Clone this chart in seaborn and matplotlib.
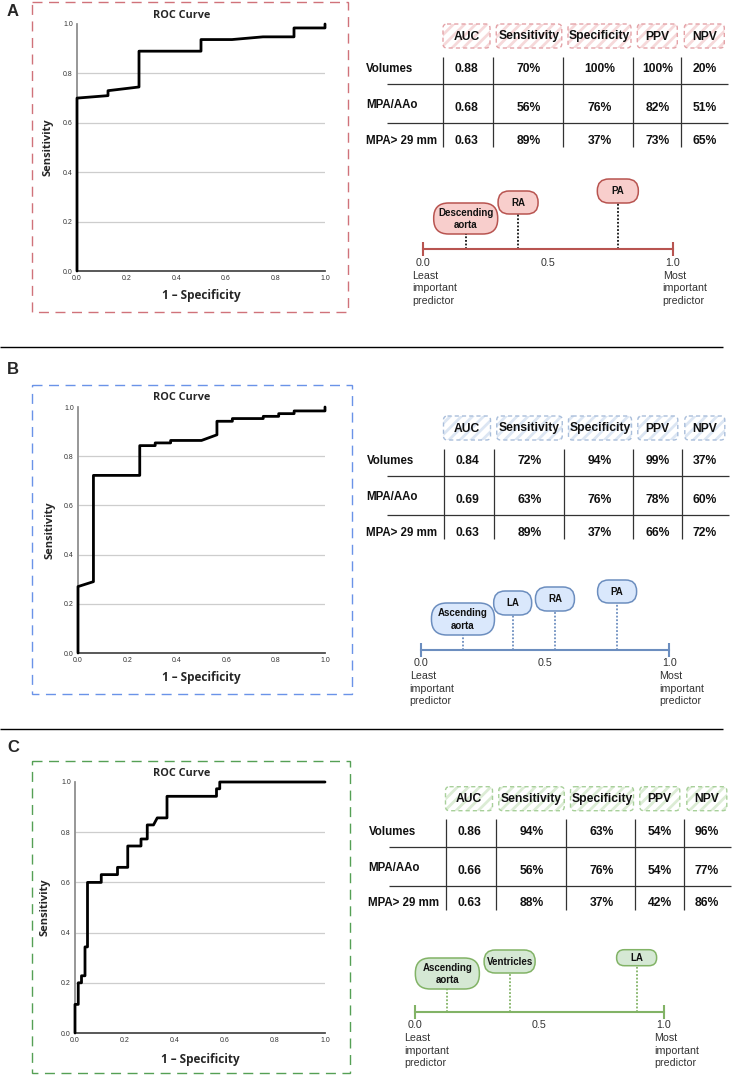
import numpy as np
import pandas as pd
import seaborn as sns
import matplotlib.pyplot as plt
from matplotlib.patches import FancyBboxPatch, Rectangle

sns.set_theme(style="white")
plt.rcParams['font.family'] = ['Liberation Sans', 'DejaVu Sans']
plt.rcParams['hatch.linewidth'] = 2.0

# ROC curves
fpr_a = [0, 0, 0.125, 0.125, 0.25, 0.25, 0.5, 0.5, 0.625, 0.75, 0.875, 0.875, 1.0, 1.0]
tpr_a = [0, 0.70, 0.71, 0.73, 0.745, 0.89, 0.89, 0.937, 0.937, 0.948, 0.948, 0.984, 0.984, 1.0]

fpr_b = [0, 0, 0.0625, 0.0625, 0.25, 0.25, 0.3125, 0.3125, 0.375, 0.375, 0.5, 0.5625, 0.5625,
         0.625, 0.625, 0.75, 0.75, 0.8125, 0.8125, 0.875, 0.875, 1.0, 1.0]
tpr_b = [0, 0.27, 0.29, 0.722, 0.722, 0.843, 0.843, 0.854, 0.854, 0.864, 0.864, 0.887, 0.942,
         0.942, 0.953, 0.953, 0.962, 0.962, 0.973, 0.973, 0.984, 0.984, 1.0]

fpr_c = [0, 0, 0.013, 0.013, 0.026, 0.026, 0.04, 0.04, 0.05, 0.05, 0.105, 0.105, 0.17, 0.17,
         0.211, 0.211, 0.264, 0.264, 0.289, 0.289, 0.314, 0.329, 0.368, 0.368, 0.566, 0.566,
         0.579, 0.579, 1.0]
tpr_c = [0, 0.114, 0.114, 0.2, 0.2, 0.228, 0.228, 0.343, 0.343, 0.6, 0.6, 0.631, 0.631, 0.66,
         0.66, 0.745, 0.745, 0.773, 0.773, 0.829, 0.829, 0.857, 0.857, 0.943, 0.943, 0.973,
         0.973, 1.0, 1.0]

# tables
metrics = ["AUC", "Sensitivity", "Specificity", "PPV", "NPV"]
predictors = ["Volumes", "MPA/AAo", "MPA> 29 mm"]

auc_a = [0.88, 0.68, 0.63]
sens_a = [70, 56, 89]
spec_a = [100, 76, 37]
ppv_a = [100, 82, 73]
npv_a = [20, 51, 65]

auc_b = [0.84, 0.69, 0.63]
sens_b = [72, 63, 89]
spec_b = [94, 76, 37]
ppv_b = [99, 78, 66]
npv_b = [37, 60, 72]

auc_c = [0.86, 0.66, 0.63]
sens_c = [94, 56, 88]
spec_c = [63, 76, 37]
ppv_c = [54, 54, 42]
npv_c = [96, 77, 86]

# predictor importance
names_a = ["Descending\naorta", "RA", "PA"]
imp_a = [0.17, 0.38, 0.78]
names_b = ["Ascending\naorta", "LA", "RA", "PA"]
imp_b = [0.17, 0.37, 0.54, 0.79]
names_c = ["Ascending\naorta", "Ventricles", "LA"]
imp_c = [0.13, 0.38, 0.89]

W, H = 733, 1075
fig = plt.figure(figsize=(W / 100, H / 100), dpi=100)
ov = fig.add_axes([0, 0, 1, 1])
ov.set_xlim(0, W)
ov.set_ylim(H, 0)
ov.axis('off')


def px_axes(x0, y0, x1, y1):
    return fig.add_axes([x0 / W, 1 - y1 / H, (x1 - x0) / W, (y1 - y0) / H])


def draw_roc(rect, fpr, tpr, title_y, ylab_x, xlab_y):
    x0, y0, x1, y1 = rect
    ax = px_axes(x0, y0, x1, y1)
    ax.set_facecolor('none')
    ax.hlines([0.2, 0.4, 0.6, 0.8], 0, 1, color='#cdcdcd', lw=0.9, zorder=0)
    df = pd.DataFrame({"fpr": fpr, "tpr": tpr})
    sns.lineplot(data=df, x="fpr", y="tpr", sort=False, estimator=None, color='black',
                 lw=2.0, ax=ax, clip_on=False, zorder=3)
    ax.set_xlim(0, 1)
    ax.set_ylim(0, 1)
    ticks = np.linspace(0, 1, 6)
    ax.set_xticks(ticks, [f"{t:.1f}" for t in ticks])
    ax.set_yticks(ticks, [f"{t:.1f}" for t in ticks])
    ax.tick_params(length=0, labelsize=5, colors='#333333', pad=3)
    for s in ['top', 'right']:
        ax.spines[s].set_visible(False)
    ax.spines['left'].set_color('#8a8a8a')
    ax.spines['bottom'].set_color('#444444')
    ax.set_xlabel("")
    ax.set_ylabel("")
    roc_font = ['Open Sans', 'DejaVu Sans']
    ov.text(182, title_y, "ROC Curve", ha='center', va='center', fontsize=7.8,
            fontweight='bold', family=roc_font)
    ov.text(ylab_x, (y0 + y1) / 2, "Sensitivity", ha='center', va='center', rotation=90,
            fontsize=8, fontweight='bold', family=roc_font)
    ov.text((x0 + x1) / 2, xlab_y, "1 \u2013 Specificity", ha='center', va='center',
            fontsize=8.5, fontweight='bold', family=roc_font)


def draw_table(top, dx, cols, stroke, stripe):
    centers = [466.5, 529, 599.5, 657.3, 704.3]
    widths = [47, 65.5, 63, 40, 40]
    for c, w, name in zip(centers, widths, metrics):
        xb = c + dx - w / 2
        ov.add_patch(FancyBboxPatch((xb, top), w, 24, boxstyle="round,pad=0,rounding_size=4",
                                    facecolor='white', edgecolor=stripe, hatch='///', lw=0))
        ov.add_patch(FancyBboxPatch((xb, top), w, 24, boxstyle="round,pad=0,rounding_size=4",
                                    facecolor='none', edgecolor=stroke, lw=1.0,
                                    linestyle=(0, (3.0, 2.2))))
        ov.text(c + dx, top + 12.5, name, ha='center', va='center', fontsize=8.7,
                fontweight='bold', color='#111111')
    ov.vlines([x + dx for x in [443.3, 493.3, 563.3, 632.7, 681]], top + 32.7, top + 123,
              color='#333333', lw=0.9)
    ov.hlines([top + 60.3, top + 99.3], 386.7 + dx, 728.3 + dx, color='#333333', lw=0.9)
    row_y = [top + 45.3, top + 84.3, top + 116.7]
    label_y = [top + 45.3, top + 81.5, top + 116.7]
    for i, p in enumerate(predictors):
        ov.text(366 + dx, label_y[i], p, ha='left', va='center', fontsize=8.3,
                fontweight='bold', color='#111111')
        for j, col in enumerate(cols):
            v = col[i]
            s = f"{v:.2f}" if j == 0 else f"{v}%"
            ov.text(centers[j] + dx, row_y[i], s, ha='center', va='center', fontsize=8.7,
                    fontweight='bold', color='#111111')


def draw_scale(x0, x1, yl, names, imps, sizes, lifts, line_c, fill_c, stem_c):
    ax = px_axes(x0, yl - 60, x1, yl)
    ax.set_facecolor('none')
    ax.set_xlim(0, 1)
    ax.set_ylim(0, 60)
    for s in ['top', 'right', 'left']:
        ax.spines[s].set_visible(False)
    ax.spines['bottom'].set_color(line_c)
    ax.spines['bottom'].set_linewidth(1.5)
    ax.set_yticks([])
    ax.set_xticks([0, 1], ["0.0", "1.0"])
    ax.set_xticks([0.5], ["0.5"], minor=True)
    ax.tick_params(axis='x', which='major', bottom=True, direction='inout', length=10,
                   width=1.5, color=line_c, labelsize=7.7, labelcolor='#333333', pad=1)
    ax.tick_params(axis='x', which='minor', bottom=True, direction='inout', length=10,
                   width=0, color=(0, 0, 0, 0), labelsize=7.7, labelcolor='#333333', pad=1)
    ax.vlines(imps, 0, lifts, colors=stem_c, linestyles=(0, (1, 1)), lw=1.3)
    for name, imp, (w, h), lift in zip(names, imps, sizes, lifts):
        dxp, dyp = ax.transData.transform((imp, lift))
        cx, by = dxp, H - dyp
        ov.add_patch(FancyBboxPatch((cx - w / 2, by - h), w, h,
                                    boxstyle=f"round,pad=0,rounding_size={h * 0.48:.1f}",
                                    facecolor=fill_c, edgecolor=line_c, lw=1.1, zorder=4))
        ov.text(cx, by - h / 2 + 0.5, name, ha='center', va='center', fontsize=7.0,
                fontweight='bold', color='#111111', linespacing=1.3, zorder=5)
    ov.text(x0 - 11, yl + 39, "Least\nimportant\npredictor", ha='left', va='center',
            fontsize=7.7, color='#333333', linespacing=1.3)
    ov.text(x1 - 10, yl + 39, "Most\nimportant\npredictor", ha='left', va='center',
            fontsize=7.7, color='#333333', linespacing=1.3)


def panel_box(x0, y0, x1, y1, color):
    ov.add_patch(Rectangle((x0, y0), x1 - x0, y1 - y0, fill=False, edgecolor=color, lw=1.0,
                           linestyle=(0, (7.2, 4.7))))


# separators
ov.hlines([347, 729], 0, 723, color='black', lw=1.0)

# panel A
ov.text(13, 12, "A", ha='center', va='center', fontsize=12, fontweight='bold')
panel_box(32, 1.5, 348, 312, '#d0727a')
draw_roc((77, 24, 325, 271), fpr_a, tpr_a, 15, 48, 296)
draw_table(24, 0, [auc_a, sens_a, spec_a, ppv_a, npv_a], '#e4a3a8', '#f6d9da')
draw_scale(423.3, 672.7, 249.3, names_a, imp_a, [(64, 31), (40, 23), (41, 24)],
           [15.3, 35.3, 46.3], '#b85450', '#f8cecc', '#111111')

# panel B
ov.text(13, 370, "B", ha='center', va='center', fontsize=12, fontweight='bold')
panel_box(32, 385, 352, 694, '#6a93e8')
draw_roc((78, 407, 325, 653), fpr_b, tpr_b, 398, 50, 678)
draw_table(416, 0.5, [auc_b, sens_b, spec_b, ppv_b, npv_b], '#a9bedb', '#dce6f3')
draw_scale(420.7, 669.3, 649.5, names_b, imp_b, [(63, 32), (38, 24), (39, 24), (39, 23)],
           [14.5, 34.5, 38.5, 46.5], '#6c8ebf', '#dae8fc', '#6c8ebf')

# panel C
ov.text(13, 747, "C", ha='center', va='center', fontsize=12, fontweight='bold')
panel_box(32, 761, 350, 1073, '#55a055')
draw_roc((75, 782, 325, 1033), fpr_c, tpr_c, 774, 45, 1059)
draw_table(786.7, 2.5, [auc_c, sens_c, spec_c, ppv_c, npv_c], '#a8d09a', '#dcecd5')
draw_scale(415, 664, 1011.7, names_c, imp_c, [(64, 31), (51, 23), (40, 16)],
           [22.7, 38.7, 46], '#82b366', '#d5e8d4', '#82b366')

fig.savefig("out.png", dpi=100)
